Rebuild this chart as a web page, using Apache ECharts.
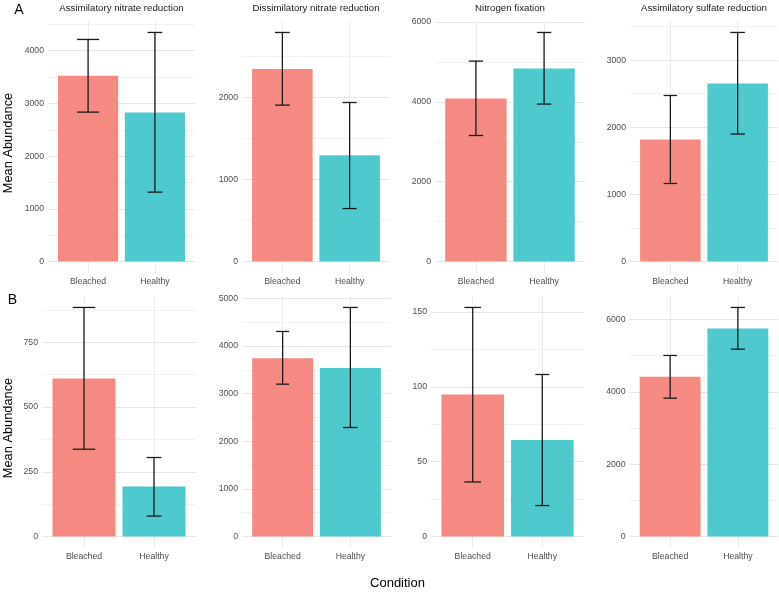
<!DOCTYPE html>
<html><head><meta charset="utf-8">
<script src="https://cdn.jsdelivr.net/npm/echarts@6/dist/echarts.min.js"></script>
<style>html,body{margin:0;padding:0;background:#fff}#c{width:779px;height:592px}</style>
</head><body><div id="c"></div>
<script>
// ---- data ----
const conditions = ['Bleached', 'Healthy'];
const panelTitles = ['Assimilatory nitrate reduction', 'Dissimilatory nitrate reduction', 'Nitrogen fixation', 'Assimilatory sulfate reduction', '', '', '', ''];
const meanValues  = [[3524, 2828], [2346, 1297], [4085, 4837], [1818, 2653], [610, 193], [3746, 3542], [95.0, 64.6], [4413, 5751]];
const lowerValues = [[2835, 1317], [1907, 646],  [3158, 3945], [1163, 1899], [337, 79],  [3200, 2290], [36.5, 20.7], [3824, 5178]];
const upperValues = [[4213, 4346], [2793, 1939], [5022, 5739], [2474, 3413], [884, 305], [4307, 4811], [153.1, 108.3], [5004, 6331]];
const yTickLabels = [[0, 1000, 2000, 3000, 4000], [0, 1000, 2000], [0, 2000, 4000, 6000], [0, 1000, 2000, 3000], [0, 250, 500, 750], [0, 1000, 2000, 3000, 4000, 5000], [0, 50, 100, 150], [0, 2000, 4000, 6000]];

// ---- layout / style ----
const gridRects = [
  [48, 21, 147, 252], [242, 21, 148, 252], [435, 21, 150, 252], [630, 21, 148, 252],
  [42, 296, 154, 252], [242, 296, 149, 252], [431, 296, 153, 252], [629.5, 296, 149, 252]
];
const capHalf = [[0.165, 0.11], [0.11, 0.105], [0.105, 0.105], [0.1, 0.108], [0.16, 0.105], [0.096, 0.108], [0.12, 0.1], [0.1, 0.105]];
const barColors = ['#F58A82', '#4ECACF'];
const FONT = "'Liberation Sans', Arial, Helvetica, sans-serif";

const grids = [], xAxes = [], yAxes = [], series = [], graphics = [];
for (let p = 0; p < 8; p++) {
  const [l, t, w, h] = gridRects[p];
  grids.push({ left: l, top: t, width: w, height: h, containLabel: false });
  xAxes.push({
    type: 'value', gridIndex: p, min: 0.4, max: 2.6,
    axisLine: { show: false },
    axisTick: { show: false, customValues: [1, 2] },
    axisLabel: { customValues: [1, 2], formatter: v => conditions[Math.round(v) - 1], color: '#4d4d4d', fontSize: 8.7, fontFamily: FONT, margin: 4 },
    splitLine: { show: true, lineStyle: { color: '#ebebeb', width: 1 } }
  });
  const M = Math.max(...upperValues[p]);
  const ymin = -0.05 * M, ymax = 1.05 * M;
  const majors = yTickLabels[p];
  const half = (majors[1] - majors[0]) / 2;
  const all = [];
  for (let k = 0; k * half <= ymax; k++) all.push(k * half);
  yAxes.push({
    type: 'value', gridIndex: p, min: ymin, max: ymax,
    axisLine: { show: false },
    axisTick: { show: false, customValues: all },
    axisLabel: { customValues: majors, formatter: v => String(Math.round(v)), color: '#4d4d4d', fontSize: 8.7, fontFamily: FONT, margin: 4 },
    splitLine: { show: true, lineStyle: { color: ['#e6e6e6', '#f2f2f2'], width: 1 } }
  });
  const data = conditions.map((c, i) => [i + 1, meanValues[p][i], lowerValues[p][i], upperValues[p][i]]);
  series.push({
    type: 'custom', xAxisIndex: p, yAxisIndex: p, data: data,
    encode: { x: 0, y: [1, 2, 3] },
    renderItem: (params, api) => {
      const i = params.dataIndex;
      const x = api.value(0), m = api.value(1), lo = api.value(2), hi = api.value(3);
      const b0 = api.coord([x - 0.45, 0]), b1 = api.coord([x + 0.45, m]);
      const cw = capHalf[p][i];
      const a = api.coord([x, lo]), b = api.coord([x, hi]);
      const l0 = api.coord([x - cw, lo]), l1 = api.coord([x + cw, lo]);
      const h0 = api.coord([x - cw, hi]), h1 = api.coord([x + cw, hi]);
      const st = { stroke: '#1a1a1a', lineWidth: 1.3 };
      return { type: 'group', children: [
        { type: 'rect', shape: { x: b0[0], y: b1[1], width: b1[0] - b0[0], height: b0[1] - b1[1] }, style: { fill: barColors[i] } },
        { type: 'line', shape: { x1: a[0], y1: a[1], x2: b[0], y2: b[1] }, style: st },
        { type: 'line', shape: { x1: l0[0], y1: l0[1], x2: l1[0], y2: l1[1] }, style: st },
        { type: 'line', shape: { x1: h0[0], y1: h0[1], x2: h1[0], y2: h1[1] }, style: st }
      ]};
    }
  });
  if (panelTitles[p]) {
    graphics.push({ type: 'text', x: l + w / 2, y: 8.5, style: { text: panelTitles[p], fill: '#1a1a1a', font: '9.7px ' + FONT, textAlign: 'center', textVerticalAlign: 'middle' } });
  }
}
graphics.push({ type: 'text', x: 19, y: 10, style: { text: 'A', fill: '#000', font: '14px ' + FONT, textAlign: 'center', textVerticalAlign: 'middle' } });
graphics.push({ type: 'text', x: 12.5, y: 300, style: { text: 'B', fill: '#000', font: '14px ' + FONT, textAlign: 'center', textVerticalAlign: 'middle' } });
graphics.push({ type: 'text', x: 8.5, y: 143, rotation: Math.PI / 2, style: { text: 'Mean Abundance', fill: '#000', font: '12.8px ' + FONT, textAlign: 'center', textVerticalAlign: 'middle' } });
graphics.push({ type: 'text', x: 8.5, y: 428, rotation: Math.PI / 2, style: { text: 'Mean Abundance', fill: '#000', font: '12.8px ' + FONT, textAlign: 'center', textVerticalAlign: 'middle' } });
graphics.push({ type: 'text', x: 397.5, y: 583, style: { text: 'Condition', fill: '#000', font: '13px ' + FONT, textAlign: 'center', textVerticalAlign: 'middle' } });

const chart = echarts.init(document.getElementById('c'), null, { renderer: 'canvas' });
chart.setOption({
  animation: false,
  backgroundColor: '#fff',
  grid: grids, xAxis: xAxes, yAxis: yAxes, series: series, graphic: graphics
});
</script></body></html>
